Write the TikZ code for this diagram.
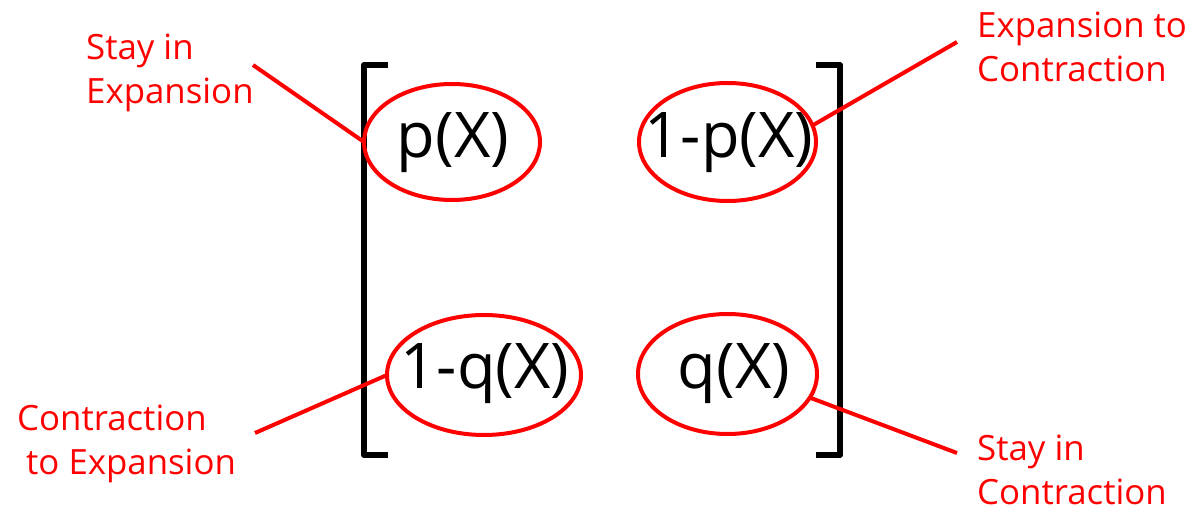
\documentclass[tikz,border=0pt]{standalone}
\usepackage{fontspec}
\setmainfont{Open Sans}
\usetikzlibrary{shapes.geometric}
\definecolor{redline}{RGB}{255,0,0}
\tikzset{
  oval/.style={ellipse, draw=redline, line width=4pt, inner sep=0pt, outer sep=0pt},
  formula/.style={anchor=base, inner sep=0pt, font=\fontsize{63}{70}\selectfont},
  lbl/.style={anchor=base west, inner sep=0pt, align=left, text=redline, font=\fontsize{34.8}{44}\selectfont},
  conn/.style={draw=redline, line width=4pt},
  brk/.style={draw=black, line width=6pt, line join=round}
}
\begin{document}
\begin{tikzpicture}[x=1pt,y=-1pt]
\useasboundingbox (0,0) rectangle (1190,510);
% brackets
\draw[brk] (388,65) -- (364,65) -- (364,455) -- (388,455);
\draw[brk] (816,65) -- (840,65) -- (840,455) -- (816,455);
% ellipses
\node[oval, minimum width=176pt, minimum height=116pt] (e1) at (452,142) {};
\node[oval, minimum width=177pt, minimum height=118pt] (e2) at (727.5,142) {};
\node[oval, minimum width=194pt, minimum height=120pt] (e3) at (484,375) {};
\node[oval, minimum width=179pt, minimum height=120pt] (e4) at (727.5,374) {};
% formulas
\node[formula] (f1) at (453,158) {p(X)};
\node[formula] (f2) at (729,158) {1-p(X)};
\node[formula] (f3) at (485,388) {1-q(X)};
\node[formula] (f4) at (734,388) {q(X)};
% labels (anchor = baseline of last line)
\node[lbl] (l1) at (86,104) {Stay in\\Expansion};
\node[lbl] (l2) at (977,82) {Expansion to\\Contraction};
\node[lbl] (l3) at (17,474) {Contraction\\\hspace*{9pt}to Expansion};
\node[lbl] (l4) at (977,504) {Stay in\\Contraction};
% connector free ends
\coordinate (c1) at (253,65);
\coordinate (c2) at (957,42);
\coordinate (c3) at (255,433);
\coordinate (c4) at (957,453);
% connectors
\draw[conn] (c1) -- (e1.west);
\draw[conn] (c2) -- (e2.11);
\draw[conn] (c3) -- (e3.west);
\draw[conn] (c4) -- (e4.-16);
\end{tikzpicture}
\end{document}
